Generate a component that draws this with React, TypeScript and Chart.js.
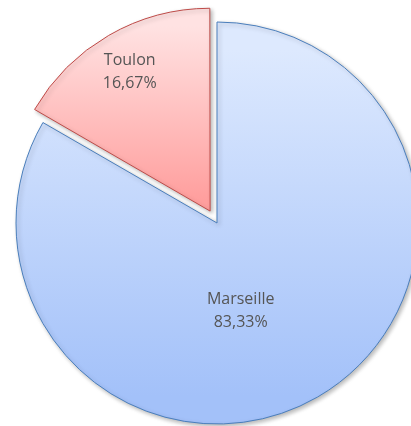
import React, { useEffect, useRef } from "react";
import { Chart, registerables } from "chart.js";

Chart.register(...registerables);

const categories = ["Marseille", "Toulon"];
const values = [83.33, 16.67];
const sliceOffsets = [0, 55];
const borderColors = ["#4a7ebb", "#be4b48"];
const gradientStops = [
  ["#dde9fe", "#a3c1f9"],
  ["#ffe2e2", "#ff9f9e"],
];

const fmtPct = (v: number, total: number) =>
  ((v / total) * 100).toFixed(2).replace(".", ",") + "%";

export default function App() {
  const ref = useRef<HTMLCanvasElement | null>(null);

  useEffect(() => {
    const canvas = ref.current;
    if (!canvas) return;
    const total = values.reduce((a, b) => a + b, 0);

    const bg = (c: any) => {
      const chart = c.chart;
      const area = chart.chartArea;
      if (!area) return gradientStops[c.dataIndex][1];
      const el = c.element;
      const cx = (area.left + area.right) / 2;
      const cy = (area.top + area.bottom) / 2;
      const r = el && el.outerRadius ? el.outerRadius : Math.min(area.width, area.height) / 2 - 56;
      let y0 = cy - r;
      let y1 = cy + r;
      if (c.dataIndex === 1) {
        y0 = cy - r - 12;
        y1 = cy - 12;
      }
      const grad = chart.ctx.createLinearGradient(cx, y0, cx, y1);
      grad.addColorStop(0, gradientStops[c.dataIndex][0]);
      grad.addColorStop(1, gradientStops[c.dataIndex][1]);
      return grad;
    };

    const shadowPlugin = {
      id: "sliceShadow",
      beforeDatasetDraw(chart: any) {
        chart.ctx.save();
        chart.ctx.shadowColor = "rgba(0,0,0,0.28)";
        chart.ctx.shadowBlur = 4;
        chart.ctx.shadowOffsetX = 2;
        chart.ctx.shadowOffsetY = 2;
      },
      afterDatasetDraw(chart: any) {
        chart.ctx.restore();
      },
    };

    const labelPlugin = {
      id: "sliceLabels",
      afterDatasetsDraw(chart: any) {
        const ctx = chart.ctx;
        const meta = chart.getDatasetMeta(0);
        ctx.save();
        ctx.fillStyle = "#555555";
        ctx.font = "16px 'Open Sans', Lato, sans-serif";
        ctx.textAlign = "center";
        ctx.textBaseline = "middle";
        meta.data.forEach((arc: any, i: number) => {
          const p = arc.getProps(["x", "y", "startAngle", "endAngle", "outerRadius"], true);
          let mid = (p.startAngle + p.endAngle) / 2;
          let frac = 0.8;
          const extra = sliceOffsets[i] / 4;
          if (i === 0) {
            mid += (15 * Math.PI) / 180;
            frac = 0.455;
          }
          const d = p.outerRadius * frac + extra;
          const x = p.x + Math.cos(mid) * d;
          const y = p.y + Math.sin(mid) * d;
          ctx.fillText(categories[i], x, y - 11.5);
          ctx.fillText(fmtPct(values[i], total), x, y + 11.5);
        });
        ctx.restore();
      },
    };

    const chart = new Chart(canvas, {
      type: "pie",
      data: {
        labels: categories,
        datasets: [
          {
            data: values,
            backgroundColor: bg,
            borderColor: borderColors,
            borderWidth: 1,
            offset: sliceOffsets,
            hoverOffset: 0,
          },
        ],
      },
      options: {
        responsive: false,
        animation: false,
        events: [],
        layout: { padding: 0 },
        plugins: {
          legend: { display: false },
          tooltip: { enabled: false },
        },
      },
      plugins: [shadowPlugin, labelPlugin],
    });
    return () => chart.destroy();
  }, []);

  return (
    <div
      style={{
        position: "fixed",
        left: 0,
        top: 0,
        width: 411,
        height: 426,
        overflow: "hidden",
        background: "#ffffff",
      }}
    >
      <canvas
        ref={ref}
        width={458}
        height={458}
        style={{ position: "absolute", left: -12, top: -6, width: 458, height: 458 }}
      />
    </div>
  );
}
